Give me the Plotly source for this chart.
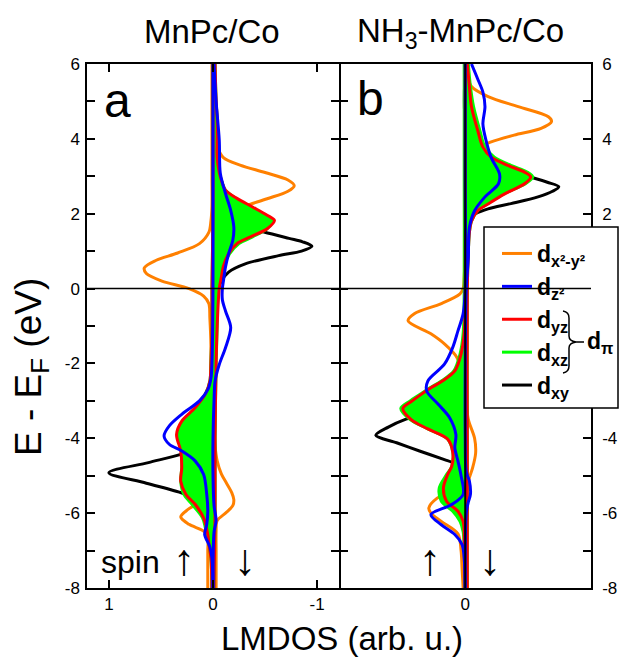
import plotly.graph_objects as go

# ---------------- data (energy in eV, LMDOS in arb. u.) ----------------
# panel a : MnPc/Co   (spin up plotted to the left (+), spin down to the right (-))
a_E_orange_up = [-8, -7.5, -7.0, -6.7, -6.5, -6.3, -6.1, -5.9, -5.7, -5.5, -5.2, -4.5, -3.5, -2.5, -1.5, -0.8, -0.4, -0.2, 0.0, 0.2, 0.4, 0.55, 0.75, 0.95, 1.2, 1.5, 1.8, 2.2, 3.0, 4.0, 5.0, 6.0]
a_orange_up = [0.05, 0.05, 0.05, 0.05, 0.08, 0.23, 0.31, 0.24, 0.13, 0.05, 0.03, 0.02, 0.02, 0.02, 0.02, 0.03, 0.04, 0.09, 0.23, 0.49, 0.64, 0.66, 0.55, 0.34, 0.13, 0.04, 0.02, 0.01, 0.01, 0.01, 0.01, 0.01]
a_E_orange_dn = [-8, -7.5, -7.0, -6.5, -6.2, -6.0, -5.8, -5.64, -5.45, -5.2, -4.95, -4.6, -4.2, -3.5, -2.5, -1.5, -0.5, 0.5, 1.5, 2.0, 2.2, 2.4, 2.6, 2.75, 2.9, 3.1, 3.3, 3.5, 3.8, 4.2, 5.0, 6.0]
a_orange_dn = [0.03, 0.03, 0.03, 0.03, 0.04, 0.12, 0.19, 0.2, 0.18, 0.13, 0.08, 0.04, 0.02, 0.01, 0.01, 0.01, 0.01, 0.01, 0.02, 0.12, 0.3, 0.52, 0.72, 0.78, 0.72, 0.5, 0.26, 0.1, 0.04, 0.02, 0.01, 0.01]

a_E_black_up = [-8, -7, -6.2, -5.9, -5.7, -5.5, -5.2, -4.92, -4.65, -4.43, -4.25, -4.0, -3.0, -2.0, 0, 2, 4, 6]
a_black_up = [0.01, 0.01, 0.02, 0.05, 0.12, 0.26, 0.64, 1.0, 0.62, 0.31, 0.12, 0.04, 0.01, 0.01, 0.0, 0.0, 0.0, 0.0]
a_E_black_dn = [-8, -4, -1, -0.5, 0.0, 0.2, 0.44, 0.66, 0.88, 1.0, 1.13, 1.25, 1.34, 1.51, 1.7, 2.0, 2.5, 4, 6]
a_black_dn = [0.0, 0.0, 0.01, 0.03, 0.05, 0.08, 0.15, 0.31, 0.63, 0.85, 0.95, 0.86, 0.73, 0.49, 0.25, 0.08, 0.03, 0.01, 0.0]

a_E_pi_up = [-8, -7.2, -6.8, -6.57, -6.13, -5.77, -5.5, -5.15, -4.79, -4.34, -3.9, -3.54, -3.18, -2.8, -2.47, -2.0, -1.0, 0, 2, 4, 6]
a_red_up = [0.01, 0.02, 0.04, 0.05, 0.09, 0.17, 0.26, 0.31, 0.3, 0.31, 0.35, 0.3, 0.17, 0.07, 0.03, 0.02, 0.01, 0.01, 0.0, 0.0, 0.0]
a_green_up = [0.01, 0.02, 0.04, 0.06, 0.1, 0.2, 0.28, 0.31, 0.3, 0.3, 0.33, 0.29, 0.16, 0.07, 0.03, 0.02, 0.01, 0.01, 0.0, 0.0, 0.0]
a_E_pi_dn = [-8, -6, -4, -2, -1, 0, 0.3, 0.6, 0.93, 1.2, 1.38, 1.6, 1.82, 1.96, 2.18, 2.41, 2.63, 2.9, 3.1, 3.5, 4.0, 4.5, 5.0, 6.0]
a_red_dn = [0.01, 0.02, 0.02, 0.03, 0.04, 0.06, 0.08, 0.1, 0.15, 0.23, 0.36, 0.52, 0.59, 0.52, 0.38, 0.23, 0.12, 0.08, 0.06, 0.04, 0.04, 0.04, 0.03, 0.02]
a_green_dn = [0.01, 0.02, 0.02, 0.03, 0.04, 0.05, 0.07, 0.1, 0.16, 0.25, 0.38, 0.52, 0.57, 0.5, 0.36, 0.22, 0.12, 0.08, 0.06, 0.05, 0.04, 0.04, 0.03, 0.02]

a_E_blue_up = [-8, -7.2, -6.9, -6.57, -6.3, -5.95, -5.5, -4.97, -4.61, -4.34, -4.16, -3.94, -3.67, -3.36, -3.0, -2.7, -2.4, -2.0, 0, 2, 4, 6]
a_blue_up = [0.0, 0.01, 0.03, 0.08, 0.06, 0.05, 0.06, 0.09, 0.17, 0.3, 0.42, 0.47, 0.42, 0.3, 0.13, 0.05, 0.02, 0.01, 0.0, 0.0, 0.0, 0.0]
a_E_blue_dn = [-8, -6.5, -6.2, -5.8, -5.0, -4.0, -3.0, -2.47, -2.03, -1.58, -1.04, -0.6, -0.3, 0.0, 0.2, 0.58, 0.93, 1.29, 1.64, 2.09, 2.54, 3.08, 3.97, 5.0, 6.0]
a_blue_dn = [0.0, 0.01, 0.03, 0.01, 0.0, 0.0, 0.01, 0.02, 0.06, 0.12, 0.17, 0.12, 0.09, 0.09, 0.1, 0.12, 0.15, 0.19, 0.2, 0.17, 0.12, 0.07, 0.06, 0.03, 0.01]

# panel b : NH3-MnPc/Co
b_E_orange_up = [-8, -7.5, -7.0, -6.55, -6.22, -6.0, -5.86, -5.6, -5.4, -5.0, -4.0, -3.0, -2.2, -1.84, -1.48, -1.21, -0.86, -0.67, -0.4, -0.14, 0.0, 0.3, 1.0, 3.0, 6.0]
b_orange_up = [0.02, 0.03, 0.04, 0.07, 0.23, 0.33, 0.35, 0.27, 0.12, 0.04, 0.02, 0.02, 0.04, 0.08, 0.2, 0.33, 0.55, 0.49, 0.23, 0.05, 0.02, 0.01, 0.0, 0.0, 0.0]
b_E_orange_dn = [-8, -7, -6, -5.15, -4.8, -4.4, -4.0, -3.5, -3.0, -2.0, 0.0, 2.0, 2.8, 3.2, 3.5, 3.79, 3.92, 4.1, 4.28, 4.46, 4.59, 4.86, 5.13, 5.4, 5.7, 6.0]
b_orange_dn = [0.0, 0.0, 0.01, 0.03, 0.07, 0.1, 0.09, 0.03, 0.01, 0.01, 0.01, 0.02, 0.03, 0.05, 0.08, 0.15, 0.25, 0.47, 0.73, 0.83, 0.8, 0.51, 0.22, 0.06, 0.02, 0.01]

b_E_black_up = [-8, -6, -5.0, -4.8, -4.65, -4.57, -4.34, -4.12, -3.92, -3.7, -3.49, -3.3, -3.0, -2.5, 0, 3, 6]
b_black_up = [0.0, 0.0, 0.02, 0.05, 0.12, 0.2, 0.44, 0.66, 0.86, 0.74, 0.57, 0.35, 0.12, 0.03, 0.0, 0.0, 0.0]
b_E_black_dn = [-8, -3, 0, 1.5, 1.9, 2.0, 2.13, 2.27, 2.45, 2.6, 2.72, 2.84, 2.96, 3.1, 3.4, 4.0, 6.0]
b_black_dn = [0.0, 0.0, 0.0, 0.01, 0.05, 0.1, 0.22, 0.44, 0.7, 0.84, 0.9, 0.79, 0.65, 0.45, 0.15, 0.02, 0.0]

b_E_pi_up = [-8, -7, -6.5, -6.22, -5.95, -5.68, -5.33, -4.97, -4.75, -4.37, -4.02, -3.75, -3.5, -3.2, -3.0, -2.82, -2.65, -2.47, -2.2, -1.75, -1.2, 0, 3, 6]
b_red_up = [0.0, 0.01, 0.01, 0.02, 0.07, 0.18, 0.21, 0.17, 0.13, 0.12, 0.17, 0.36, 0.52, 0.6, 0.51, 0.42, 0.33, 0.22, 0.1, 0.04, 0.01, 0.0, 0.0, 0.0]
b_green_up = [0.0, 0.01, 0.02, 0.05, 0.12, 0.23, 0.25, 0.18, 0.13, 0.12, 0.17, 0.36, 0.53, 0.62, 0.53, 0.43, 0.34, 0.23, 0.11, 0.05, 0.02, 0.01, 0.01, 0.01]
b_E_pi_dn = [-8, -4, 0, 1.0, 1.5, 1.8, 2.08, 2.26, 2.53, 2.8, 2.98, 3.11, 3.29, 3.51, 3.78, 4.23, 4.86, 5.4, 6.0]
b_red_dn = [0.02, 0.02, 0.02, 0.03, 0.04, 0.06, 0.12, 0.22, 0.38, 0.57, 0.63, 0.57, 0.41, 0.25, 0.17, 0.12, 0.06, 0.04, 0.02]
b_green_dn = [0.02, 0.02, 0.02, 0.03, 0.04, 0.06, 0.12, 0.21, 0.37, 0.58, 0.65, 0.6, 0.44, 0.28, 0.19, 0.14, 0.08, 0.05, 0.03]

b_E_blue_up = [-8, -7.2, -6.84, -6.57, -6.31, -6.04, -5.77, -5.5, -5.0, -4.61, -4.25, -3.9, -3.45, -3.09, -2.74, -2.47, -2.02, -1.57, -1.13, -0.67, 0, 3, 6]
b_blue_up = [0.0, 0.01, 0.03, 0.1, 0.23, 0.33, 0.13, 0.02, 0.04, 0.07, 0.1, 0.09, 0.15, 0.26, 0.37, 0.36, 0.2, 0.12, 0.07, 0.02, 0.0, 0.0, 0.0]
b_E_blue_dn = [-8, -6.0, -5.7, -5.5, -5.14, -4.9, -4.0, 0.0, 0.83, 1.63, 2.08, 2.45, 2.8, 3.06, 3.5, 3.96, 4.4, 4.86, 5.25, 5.6, 6.0]
b_blue_dn = [0.0, 0.01, 0.03, 0.05, 0.04, 0.01, 0.0, 0.01, 0.03, 0.04, 0.09, 0.19, 0.32, 0.33, 0.25, 0.2, 0.17, 0.19, 0.17, 0.12, 0.06]

# axis ticks (labelled every 2 eV, minor ticks every 1 eV)
y_tickvals = [-8, -6, -4, -2, 0, 2, 4, 6]
y_ticktext = ["-8", "-6", "-4", "-2", "0", "2", "4", "6"]
xa_tickvals = [1, 0, -1]
xa_ticktext = ["1", "0", "-1"]
xb_tickvals = [0]
xb_ticktext = ["0"]

panel_titles = ["MnPc/Co", "NH<sub>3</sub>-MnPc/Co"]
legend_names = {
    "orange": "<b>d<sub>x²-y²</sub></b>",
    "blue": "<b>d<sub>z²</sub></b>",
    "red": "<b>d<sub>yz</sub></b>",
    "green": "<b>d<sub>xz</sub></b>",
    "black": "<b>d<sub>xy</sub></b>",
}
colors = {"orange": "#FF8000", "blue": "#0000FF", "red": "#FF0000", "green": "#00FF00", "black": "#000000"}
legend_rank = {"orange": 1, "blue": 2, "red": 3, "green": 4, "black": 5}

# ---------------- figure ----------------
FONT = "Arial, 'Liberation Sans', sans-serif"
W, H = 620, 661
L, R, T, B = 87, 591, 64, 588          # plot area in pixels
LW = 1.5                               # axis line width


def px_x(px):
    return (px - L) / (R - L)


def px_y(py):
    return (B - py) / (B - T)


fig = go.Figure()


def add(E, vals, sign, key, xa, ya, legend=False, fill_only=False):
    x = [sign * v for v in vals]
    if fill_only:
        fig.add_trace(go.Scatter(
            x=x, y=E, mode="lines", xaxis=xa, yaxis=ya,
            line=dict(color=colors[key], width=0, shape="spline", smoothing=0.9),
            fill="tozerox", fillcolor=colors[key], showlegend=False, hoverinfo="skip"))
        return
    fig.add_trace(go.Scatter(
        x=x, y=E, mode="lines", xaxis=xa, yaxis=ya,
        line=dict(color=colors[key], width=3, shape="spline", smoothing=0.9),
        name=legend_names[key], legendgroup=key, showlegend=legend,
        legendrank=legend_rank[key], hoverinfo="skip",
    ))


panels = [
    ("x", "y", [
        ("orange", a_E_orange_up, a_orange_up, a_E_orange_dn, a_orange_dn),
        ("black", a_E_black_up, a_black_up, a_E_black_dn, a_black_dn),
        ("green", a_E_pi_up, a_green_up, a_E_pi_dn, a_green_dn),
        ("red", a_E_pi_up, a_red_up, a_E_pi_dn, a_red_dn),
        ("blue", a_E_blue_up, a_blue_up, a_E_blue_dn, a_blue_dn),
    ]),
    ("x2", "y2", [
        ("orange", b_E_orange_up, b_orange_up, b_E_orange_dn, b_orange_dn),
        ("black", b_E_black_up, b_black_up, b_E_black_dn, b_black_dn),
        ("green", b_E_pi_up, b_green_up, b_E_pi_dn, b_green_dn),
        ("red", b_E_pi_up, b_red_up, b_E_pi_dn, b_red_dn),
        ("blue", b_E_blue_up, b_blue_up, b_E_blue_dn, b_blue_dn),
    ]),
]
for pi, (xa, ya, curves) in enumerate(panels):
    for key, Eu, vu, Ed, vd in curves:
        if key == "green":
            add(Eu, vu, 1, key, xa, ya, fill_only=True)
            add(Ed, vd, -1, key, xa, ya, fill_only=True)
        add(Eu, vu, 1, key, xa, ya, legend=(pi == 0))
        add(Ed, vd, -1, key, xa, ya, legend=False)

axis_common = dict(showline=True, linecolor="black", linewidth=LW, showgrid=False,
                   zeroline=False, tickcolor="black", tickwidth=1.5,
                   tickfont=dict(family=FONT, size=17, color="black"))
y_minor = dict(ticks="inside", ticklen=8, tickwidth=1.5, tickcolor="black",
               dtick=1, tick0=0, showgrid=False)

# panel b starts one line width to the right so the two divider lines coincide
b_start = 0.5 + LW / (R - L)

fig.update_layout(
    width=W, height=H,
    margin=dict(l=L, r=W - R, t=T, b=H - B, autoexpand=False),
    paper_bgcolor="white", plot_bgcolor="white",
    font=dict(family=FONT, color="black"),
    xaxis=dict(domain=[0, 0.5], range=[1.21, -1.21], tickvals=xa_tickvals, ticktext=xa_ticktext,
               mirror="ticks", ticks="inside", ticklen=8, anchor="y", **axis_common),
    xaxis2=dict(domain=[b_start, 1], range=[1.2, -1.21], tickvals=xb_tickvals, ticktext=xb_ticktext,
                mirror=True, ticks="", anchor="y2", **axis_common),
    yaxis=dict(range=[-8, 6], tickvals=y_tickvals, ticktext=y_ticktext, mirror="ticks",
               ticks="inside", ticklen=8, anchor="x", side="left", ticklabelstandoff=2,
               minor=y_minor, **axis_common),
    yaxis2=dict(range=[-8, 6], tickvals=y_tickvals, ticktext=y_ticktext, mirror="ticks",
                ticks="inside", ticklen=8, anchor="x2", side="right", matches="y",
                ticklabelstandoff=6, minor=y_minor, **axis_common),
    showlegend=True,
    legend=dict(x=px_x(497), y=px_y(232), xanchor="left", yanchor="top",
                bgcolor="rgba(0,0,0,0)", borderwidth=0,
                font=dict(family=FONT, size=23, color="black"),
                tracegroupgap=1, traceorder="normal"),
)

shapes = []
# legend frame
shapes.append(dict(type="rect", xref="paper", yref="paper", x0=px_x(484), x1=px_x(618),
                   y0=px_y(408), y1=px_y(227), fillcolor="white",
                   line=dict(color="black", width=1.5), layer="above"))
# Fermi level line across both panels
shapes.append(dict(type="line", xref="paper", yref="y", x0=0, x1=1, y0=0, y1=0,
                   line=dict(color="black", width=1.5), layer="above"))
# zero line in panel b
shapes.append(dict(type="line", xref="x2", yref="y2", x0=0, x1=0, y0=-8, y1=6,
                   line=dict(color="black", width=2), layer="above"))
# brace for d_pi
bp = [(563, 311), (569, 312), (569, 318), (569, 336), (569, 341), (576, 342),
      (569, 343), (569, 348), (569, 366), (569, 372), (563, 373)]
c = [(px_x(a), px_y(b)) for a, b in bp]
path = (f"M {c[0][0]},{c[0][1]} Q {c[1][0]},{c[1][1]} {c[2][0]},{c[2][1]} "
        f"L {c[3][0]},{c[3][1]} Q {c[4][0]},{c[4][1]} {c[5][0]},{c[5][1]} "
        f"Q {c[6][0]},{c[6][1]} {c[7][0]},{c[7][1]} L {c[8][0]},{c[8][1]} "
        f"Q {c[9][0]},{c[9][1]} {c[10][0]},{c[10][1]} "
        f"M {c[5][0]},{c[5][1]} L {px_x(584)},{c[5][1]}")
shapes.append(dict(type="path", xref="paper", yref="paper", path=path,
                   line=dict(color="black", width=1.5)))
fig.update_layout(shapes=shapes)


def note(text, x, y, size, xanchor="center", angle=0):
    return dict(text=text, x=px_x(x), y=px_y(y), xref="paper", yref="paper",
                showarrow=False, textangle=angle, font=dict(family=FONT, size=size, color="black"),
                xanchor=xanchor, yanchor="middle")


ann = [
    note(panel_titles[0], 212, 31, 33),
    note(panel_titles[1], 460, 33, 33),
    note("E - E<sub>F</sub> (eV)", 31, 367, 37, angle=-90),
    note("LMDOS (arb. u.)", 342, 638, 33),
    note("a", 117, 100, 48),
    note("b", 370, 98, 48),
    note("spin", 99, 562, 32, xanchor="left"),
    note("<b>d<sub>π</sub></b>", 585, 342, 23, xanchor="left"),
]
for txt, xp in [("↑", 184), ("↓", 245), ("↑", 430), ("↓", 490)]:
    ann.append(note(txt, xp, 559, 44))
fig.update_layout(annotations=ann)

# remove the default 8 px page margin so the figure fills the window exactly
fig.write_html("out.html", config={"displayModeBar": False},
               post_script="document.body.style.margin='0px';document.body.style.overflow='hidden';")
